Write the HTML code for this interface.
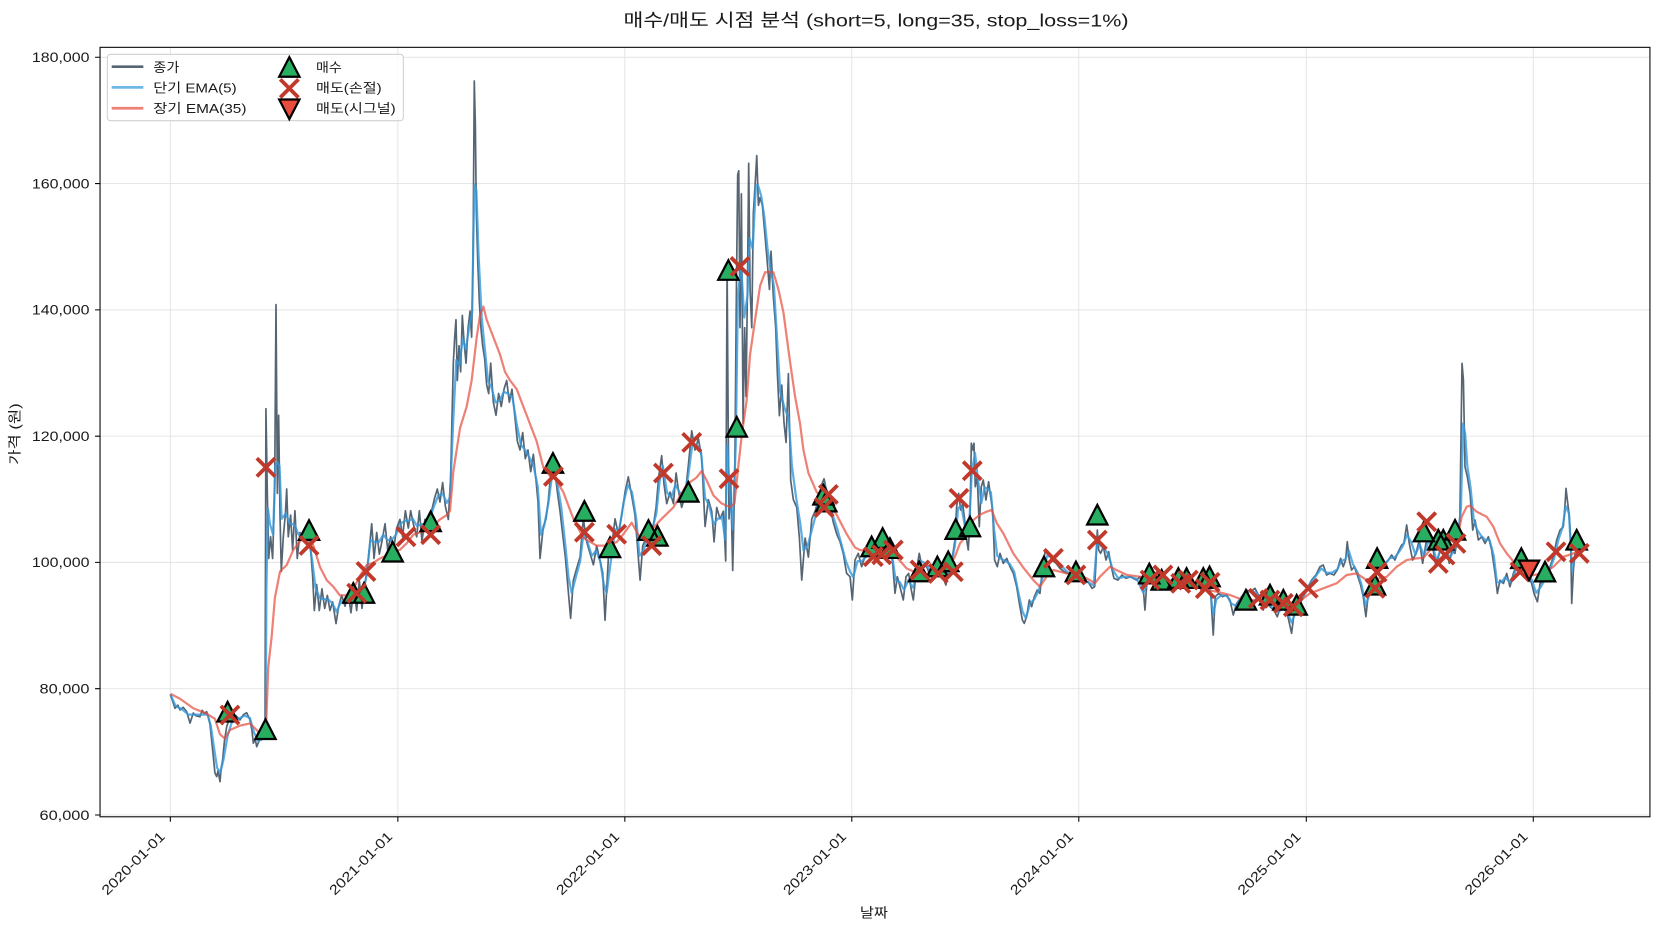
<!DOCTYPE html>
<html>
<head>
<meta charset="utf-8">
<style>
html,body{margin:0;padding:0;background:#fff;}
svg{display:block;}
text{font-family:"Liberation Sans","Noto Sans CJK KR",sans-serif;fill:#1a1a1a;}
</style>
</head>
<body>
<svg width="1660" height="930" viewBox="0 0 1568 878.43" preserveAspectRatio="none" xmlns="http://www.w3.org/2000/svg">
<defs>
<clipPath id="ax"><rect x="94.5" y="44.7" width="1464" height="726.8"/></clipPath>
</defs>
<rect x="0" y="0" width="1568" height="878.43" fill="#fff"/>
<path stroke="#e3e3e3" stroke-width="0.9" fill="none" d="M160.9,44.7V771.5M375.8,44.7V771.5M590.2,44.7V771.5M804.6,44.7V771.5M1019,44.7V771.5M1233.9,44.7V771.5M1448.3,44.7V771.5M94.5,769.8H1558.5M94.5,650.5H1558.5M94.5,531.2H1558.5M94.5,412H1558.5M94.5,292.7H1558.5M94.5,173.4H1558.5M94.5,54.1H1558.5"/>
<g clip-path="url(#ax)" fill="none" stroke-linejoin="round">
<polyline stroke="#2c3e50" stroke-opacity="0.8" stroke-width="1.6" points="160.9,655.8 163,662 165.3,669 168,666 170,670.6 173,668 176.3,672.2 179.5,683 182.6,673.5 185,676 188.9,677 191,671 193,674 195.2,672.2 197,678 198.4,684.8 200,700 201.5,714.7 203,730 204.7,733.6 206,728 207.8,738.3 209,725 210.3,717.9 212,700 214.1,686.4 217.2,677 220.4,680 223,676 226.7,680 230,675 233,673.2 236.1,680 238,690 239.3,702 241,698 242.5,705.3 245.6,697.4 248,696 250.3,695.8 251.2,386 252.5,466 253.8,527.5 255.6,507 257.5,527.5 259.4,466 260.7,287.7 262,466 263.2,392.2 264.5,486.5 265.7,539.8 267.6,507 269.5,486.5 270.8,461.9 272.3,507 274.5,486.5 276.4,519.3 278.6,482.4 280.8,527.5 283.4,502.9 286.5,511.1 289.7,498.8 292.8,511.1 295.3,543.9 296.9,576.7 299.1,552.1 301.6,576.7 304.1,556.2 306.7,574.7 309.2,562.4 311.7,576.7 314.2,568.5 317.4,589 319.9,572.6 322.7,562.4 325.9,572.6 329,560.3 331.5,578.8 334.4,554.2 336.9,576.7 339.4,548 341.9,574.7 344.8,552.1 347.9,527.5 351.1,494.7 353.3,527.5 355.8,502.9 358.3,523.4 360.8,511.1 363.7,494.7 366.2,519.3 369,507 371.5,521.4 374.7,498.8 377.8,490.6 380.3,507 382.9,482.4 385.7,498.8 387.9,482.4 390.4,494.7 393.6,507 396.1,482.4 398.6,511.1 401.4,490.6 404.6,500.9 407.7,482.4 410.6,470.1 413.1,461.9 415.6,474.2 418.1,455.8 420.7,478.3 423.5,490.6 425.7,449.6 427,392.2 428.2,343 429.5,318.4 430.7,302 432,359.4 433.6,326.6 435.1,351.2 436.7,297.9 438.3,322.5 440.2,343 442.1,310.2 444,293.8 445.5,318.4 446.8,244.6 448,76.5 449,117.5 449.9,199.5 451.2,244.6 452.8,285.6 454.3,310.2 455.9,326.6 457.8,338.9 459.7,363.5 461.6,371.7 463.5,343 466,379.9 468.5,392.2 471,371.7 473.5,384 476.1,367.6 478.6,359.4 481.1,379.9 483.6,367.6 486.2,392.2 488.7,416.8 491.2,425 493.7,408.6 496.2,433.2 498.7,425 501.3,445.5 503.8,429.1 506.3,453.7 508.2,474.2 510.1,527.5 513.2,497.3 515.8,490.1 518,472 520.2,446.8 522,432.3 524.3,446.8 526.5,464.8 529,482.9 531.5,504.6 534,526.2 536.5,555.1 539,584 541.6,547.9 544.7,537 547.9,526.2 551,490.1 554.2,511.8 557.3,522.6 560.5,533.5 563.6,515.4 566.8,529.8 569.3,540.7 571.5,585.8 574.7,526.2 577.8,515.4 581,490.1 584.1,504.6 587.3,486.5 590.4,464.8 593.5,450.4 596.7,468.4 599.8,486.5 602.1,515.4 604.6,547.9 607.1,515.4 610.2,508.2 613.4,497.3 616.5,500.9 619.7,479.3 622.2,450.4 625,430.5 627.2,457.6 629.8,475.7 632.9,464.8 636.1,475.7 638.6,446.8 641.1,464.8 643.9,479.3 647.1,468.4 650.2,439.5 653.4,407 656.5,425.1 659.7,414.3 662.8,432.3 666,497.3 669.1,472 672.3,482.9 674.5,511.8 677,479.3 680.1,490.1 683.3,482.9 685.5,529.8 686.8,251.7 687.7,381.7 688.6,490.1 690.2,454 692.1,538.9 694,454 695.6,273.4 696.8,165 697.8,161.4 699,309.5 700.3,183.1 701.9,399.8 703.4,309.5 704.7,374.5 706,273.4 707.2,154.2 708.5,273.4 710.1,309.5 711.6,201.2 713.2,175.9 714.8,147 716.4,193.9 717.9,186.7 720.1,193.9 722.3,219.2 724.5,244.5 726.8,273.4 728.3,237.3 730.5,280.6 732.7,309.5 734.3,352.9 736.2,392.6 738.4,363.7 740.6,399.8 742.5,417.9 744.7,352.9 746.9,454 749.4,472 752.6,479.3 755.1,508.2 757.3,547.9 760.5,508.2 763.6,526.2 766.8,490.1 769.9,482.9 773.1,472 776.2,457.6 778.4,452.2 780.9,464.8 784.1,479.3 787.2,493.7 790.4,504.6 793.5,511.8 796.5,522.7 799.7,541.6 802.9,544.7 805.1,566.7 807.6,529 810.7,522.7 813.9,535.3 817,525.8 820.2,516.4 823.3,529 826.5,521.1 830.6,522.7 833.7,513.2 837.5,519.5 840.6,516.4 843.2,532.1 845.4,560.4 847.6,544.7 850.1,554.2 853.2,566.7 855.8,544.7 858.3,541.6 860.8,557.3 862.7,566.7 865.2,541.6 868.3,522.7 870.9,535.3 874,532.1 877.2,540 880.3,535.3 884.1,543.1 887.9,540 891,546.3 893.5,552.6 896.1,538.4 899.2,529 902,510.1 903.6,478.6 905.5,466 907.4,481.7 909.3,475.4 911.2,491.2 913.1,510.1 914.6,519.5 916.2,491.2 917.5,418.7 918.7,425 920,418.7 921.2,459.7 923.1,450.2 925,497.5 926.9,459.7 928.8,453.4 931.3,472.3 933.8,455 935.7,469.1 937.6,481.7 939.5,529 942,535.3 944.6,522.7 947.7,532.1 950.9,527.4 954,535.3 957.2,541.6 960.3,554.2 963.4,573 965.7,585.6 967.5,588.8 969.7,582.5 972.3,566.7 974.5,573 977,563.6 979.8,557.3 982.3,560.5 984.9,535.3 987.4,519.5 990.5,522.7 993.7,529 997.5,532.1 1001.2,536.8 1005,540 1008.8,541.6 1012.6,544.7 1016.3,547.9 1020.1,546.3 1023.9,551 1027.7,549.4 1031.5,555.7 1034,554.2 1035.2,532.1 1036.5,500.6 1037.8,519.5 1039.6,522.7 1042.2,516.4 1044.7,529 1047.2,521.1 1049.7,535.3 1052.2,546.3 1056,547.9 1059.8,543.1 1063.6,546.3 1067.4,544.7 1073.6,547.9 1076.7,544.7 1079.9,555.7 1081.5,576.2 1083.7,544.7 1087.8,551 1092.5,546.3 1097.2,541.6 1101.9,551 1106.7,547.9 1111.4,551 1116.1,547.9 1120.8,554.2 1125.6,549.4 1130.3,554.2 1135,551 1139.7,555.7 1143.5,558.9 1146,599.8 1147.9,563.6 1151.1,560.5 1154.8,563.6 1158.6,562 1161.8,566.8 1164.9,580.9 1168.1,569.9 1172.8,563.6 1177.5,557.3 1181.3,558.9 1185.4,555.7 1189.5,563.6 1193.3,576.2 1196.4,566.8 1199.6,573.1 1203.3,576.2 1206.5,582.5 1209.6,573.1 1212.8,574.6 1215.9,579.4 1220,598.2 1223.2,573.1 1226.3,569.9 1230.4,563.6 1234.2,557.3 1238.9,547.9 1243,543.1 1246.8,535.3 1249.9,533.7 1253.1,543.1 1256.2,541.6 1260,543.1 1263.2,538.4 1266.3,527.4 1268.8,535.3 1271,529 1272.6,511.7 1274.5,529 1276.7,538.4 1279.2,535.3 1282.1,543.1 1285.2,552.6 1287.7,563.6 1290.2,582.5 1292.5,560.5 1295.6,547.9 1298.8,541.6 1301.9,536.8 1305.1,535.3 1308.2,532.1 1311.4,529 1314.5,524.2 1317.6,529 1320.8,521.1 1324,514.8 1326.1,513.2 1328.7,495.9 1331.2,513.2 1334.3,529 1337.5,522.7 1340.6,510.1 1343.8,532.1 1346.9,513.2 1350.1,506.9 1353.2,516.4 1356.4,535.3 1359.5,522.7 1363.3,510.1 1366.5,519.5 1369,532.1 1371.5,519.5 1374.3,522.7 1377.5,503.8 1379,488 1381,343.2 1382.3,358.9 1383.8,440.9 1386,450.3 1388.6,466.1 1391.1,500.7 1393.3,491.2 1396.4,510.1 1399.6,507 1402.7,513.3 1405.9,507 1409,519.6 1412.2,541.6 1414.4,560.5 1416.9,548 1420.1,551.1 1423.2,541.6 1426.3,554.2 1429.5,541.6 1434.2,529 1439,538.5 1443.7,544.8 1446.8,551.1 1449,560.5 1452.2,568.4 1454.7,551.1 1459.4,548 1464.1,535.3 1467.3,525.9 1470.4,510.1 1473.6,500.7 1476.7,497.5 1478.4,475 1479.2,461.3 1480.5,472.4 1482.4,488.1 1483.6,510.1 1484.6,570 1486.2,538.5 1487.8,522.7 1489.3,522.7"/>
<polyline stroke="#3498db" stroke-opacity="0.8" stroke-width="2.1" points="160.9,655.8 166,667 172,670 178,675 184,675 190,675 196,675 199,685 202,705 205,725 208,730 211,718 215,695 219,682 225,679 231,676 236,678 240,692 244,700 248,698 251,696 251.6,560 253,480 255,495 258,505 260,440 262,437 264,440 266,490 270,485 274,495 278,495 282,505 287,505 291,505 295,530 298,555 302,565 306,566 310,566 314,570 318,578 322,568 326,568 330,568 334,562 338,565 342,562 346,545 350,510 354,512 358,512 362,505 366,510 370,510 374,505 378,495 382,492 386,492 390,490 394,497 398,495 402,495 406,490 410,478 414,468 418,466 422,475 425,470 428,400 431,340 434,345 437,320 440,330 443,310 446,295 448,174 450,180 452,240 455,300 458,330 461,360 464,365 468,380 472,378 476,370 480,372 484,375 488,400 492,420 496,425 500,432 504,440 508,460 511,505 514,497 518,475 522,445 526,455 530,478 534,515 537,545 540,560 544,545 548,530 551,505 555,512 559,525 563,520 567,530 570,550 573,560 577,530 581,500 585,500 589,475 593,458 597,465 601,490 604,525 608,520 612,505 616,500 620,485 623,455 626,440 630,465 634,470 638,458 642,465 646,470 650,450 654,420 658,420 662,425 666,470 670,478 674,495 678,490 682,488 685,510 687,420 689,460 692,500 695,420 697,280 700,250 703,300 706,280 708,225 711,235 714,175 716,175 719,185 722,205 725,235 728,255 731,270 734,320 737,370 741,385 745,395 748,440 752,470 756,495 759,520 763,515 767,500 771,485 775,465 779,458 783,470 787,488 791,500 795,515 799,530 803,540 806,545 810,530 814,530 818,526 822,523 826,522 831,520 835,517 839,518 843,527 846,548 850,550 854,557 858,548 862,555 866,545 870,530 874,532 878,538 882,538 886,541 890,544 894,548 898,536 902,515 905,480 908,478 912,500 915,505 918,445 921,428 924,455 927,475 930,460 933,462 936,465 939,500 942,525 946,528 950,530 954,533 958,540 962,560 966,578 969,584 973,570 977,566 981,558 985,545 989,525 993,526 998,530 1003,535 1008,540 1013,544 1018,546 1023,549 1028,550 1033,553 1036,515 1039,515 1043,518 1047,524 1051,538 1056,546 1062,545 1068,545 1074,547 1080,560 1084,550 1090,548 1096,544 1102,549 1108,549 1114,549 1120,552 1126,551 1132,553 1138,554 1143,557 1146,580 1149,566 1154,562 1159,563 1163,570 1167,572 1172,566 1177,560 1182,558 1187,560 1192,570 1197,569 1202,574 1207,578 1212,575 1216,578 1220,588 1224,578 1228,570 1233,560 1238,550 1243,544 1248,537 1253,541 1258,541 1263,538 1267,530 1271,528 1274,520 1278,533 1282,540 1286,552 1290,572 1293,563 1297,550 1301,540 1305,536 1309,532 1313,527 1317,527 1321,522 1325,516 1329,505 1333,512 1337,524 1341,514 1345,525 1349,512 1353,514 1357,530 1361,518 1365,515 1369,527 1373,521 1377,508 1380,480 1382,400 1384,410 1386,440 1389,460 1392,490 1395,500 1399,506 1403,510 1407,510 1411,525 1414,550 1418,550 1422,545 1426,550 1430,543 1434,533 1438,536 1443,542 1447,548 1451,560 1455,555 1459,548 1464,538 1468,527 1472,510 1476,498 1479,478 1482,485 1485,540 1487,528 1489.3,524"/>
<polyline stroke="#e74c3c" stroke-opacity="0.7" stroke-width="2.1" points="161.2,655.4 170,660 182.6,669 195,674 203,679 207.8,693.6 212.5,697.7 217.2,689.5 226.7,685.4 236.1,683.3 242.4,689.5 248.7,697.7 251,694 253.4,630 256.6,601.3 259.7,564.4 264.5,539.8 270.8,533.7 277.1,519.3 283.4,511.1 289.7,507 296,515.2 302.3,535.7 308.6,548 314.9,554.2 321.1,562.4 327.4,562.4 333.7,556.2 340,543.9 346.3,533.7 352.6,531.6 358.9,527.5 368.4,523.4 377.8,519.3 384.1,513.2 390.4,505 396.7,502.9 403,500.9 409.3,496.8 415.6,490.6 421.9,486.5 425.1,482.4 428.2,445.5 434.5,404.5 440.8,384 445.5,359.4 450.3,318.4 453.4,297.9 456.6,289.7 459.7,302 466,318.4 472.3,334.8 477,351.2 481.8,359.4 488.1,367.6 494.3,384 500.6,400.4 506.9,416.8 513.2,441.4 519.5,449.6 522.7,446.8 526,455 532.1,464.8 541.6,490 551,508 563.6,515.4 573,515.4 582.5,512 588.8,504.5 596.7,493.7 604.6,508 614,502 625,490 636,479.3 648.7,457.6 658,451 662.8,445 667.6,454 673.9,468 681.7,475.6 689.6,479 693.7,475.6 697.5,439.5 700.7,410.6 705.3,378.1 708.5,334.8 713.2,302.3 718,269.8 722.7,257.1 730.5,257.1 735.3,273.4 740,295 746.3,342 751,374.5 755.7,400 758.9,425 763.6,446.8 771.5,465 781,472 790.4,486.5 799.8,504.5 807.7,517.2 812.3,519.5 825,521 834.4,520.8 847,526.2 856.5,537 869.1,542.5 881.6,541.6 890,540 896,536 902,525.8 906.8,513.2 913,506 919.4,491.2 926,486 932,483.3 936.7,481.7 941.5,494 947.7,503.8 957.1,522.7 966.5,536 976,547.9 982.3,554.2 988.6,544.7 995,538.4 1007.5,541.6 1020.1,543.1 1029.6,548 1034.3,551 1039,544.7 1048.5,535.3 1054.8,538.5 1064.2,543 1076.8,544.7 1095.7,548 1114.6,551 1130.3,552.6 1139.8,557.3 1149.2,558.9 1161.8,562 1174.4,566.8 1193,567 1212.2,568.3 1224.8,569.9 1237.3,560.5 1250,555.7 1262.5,551 1272,543.1 1281.5,541.6 1291,548 1300,547 1309.8,544.8 1319.3,535.3 1328.7,529 1338.1,527.4 1344.5,527 1350.8,519.6 1360.2,513.3 1369.7,510.1 1377.5,503.8 1380.7,488.1 1385.4,478.6 1388.6,477.7 1394.9,483.4 1404.3,488.1 1410.6,497.5 1416.9,513.3 1423.2,522.7 1431.1,532.2 1439,538.5 1448.4,543.2 1457.8,541.6 1467.3,535.3 1476.7,525.9 1486.2,522.7 1489.3,522"/>
</g>
<path fill="#27ae60" stroke="#000" stroke-width="2.1" d="M215,663l9.6,18.5h-19.2zM250.8,679.5l9.6,18.5h-19.2zM291.9,491.4l9.6,18.5h-19.2zM333.7,550.8l9.6,18.5h-19.2zM343.8,550.8l9.6,18.5h-19.2zM370.9,511.9l9.6,18.5h-19.2zM406.8,483.2l9.6,18.5h-19.2zM522.3,428l9.6,18.5h-19.2zM552,473.4l9.6,18.5h-19.2zM576.2,507.7l9.6,18.5h-19.2zM612.5,491.4l9.6,18.5h-19.2zM621,496.9l9.6,18.5h-19.2zM650.2,455.3l9.6,18.5h-19.2zM688,245.8l9.6,18.5h-19.2zM695.9,393.9l9.6,18.5h-19.2zM777.8,458l9.6,18.5h-19.2zM780.5,464.5l9.6,18.5h-19.2zM823.3,506.9l9.6,18.5h-19.2zM833.7,499l9.6,18.5h-19.2zM840.6,508.5l9.6,18.5h-19.2zM868.3,530.5l9.6,18.5h-19.2zM885.4,525.8l9.6,18.5h-19.2zM895.7,521l9.6,18.5h-19.2zM902.7,490.5l9.6,18.5h-19.2zM916.2,488l9.6,18.5h-19.2zM986.1,525.8l9.6,18.5h-19.2zM1016.3,530.5l9.6,18.5h-19.2zM1036.5,476.9l9.6,18.5h-19.2zM1085.6,532.5l9.6,18.5h-19.2zM1097.3,538.4l9.6,18.5h-19.2zM1113,536.8l9.6,18.5h-19.2zM1120.8,536.8l9.6,18.5h-19.2zM1136.6,536.8l9.6,18.5h-19.2zM1142.5,535.2l9.6,18.5h-19.2zM1176.9,557.3l9.6,18.5h-19.2zM1199.6,552.5l9.6,18.5h-19.2zM1212.2,557.3l9.6,18.5h-19.2zM1224.8,562l9.6,18.5h-19.2zM1298.8,543l9.6,18.5h-19.2zM1300.8,517.9l9.6,18.5h-19.2zM1345,492.8l9.6,18.5h-19.2zM1358.6,500.5l9.6,18.5h-19.2zM1363.3,500.6l9.6,18.5h-19.2zM1374.4,491.2l9.6,18.5h-19.2zM1437,518l9.6,18.5h-19.2zM1459.4,530.6l9.6,18.5h-19.2zM1489.3,500.6l9.6,18.5h-19.2z"/>
<path fill="none" stroke="#c0392b" stroke-width="3.6" d="M208.6,666.8l17.2,17.2m0,-17.2l-17.2,17.2M242.6,432.8l17.2,17.2m0,-17.2l-17.2,17.2M283.3,506.6l17.2,17.2m0,-17.2l-17.2,17.2M328.3,551.7l17.2,17.2m0,-17.2l-17.2,17.2M337.1,531.2l17.2,17.2m0,-17.2l-17.2,17.2M374.9,498.4l17.2,17.2m0,-17.2l-17.2,17.2M398.2,496.4l17.2,17.2m0,-17.2l-17.2,17.2M514.1,441.4l17.2,17.2m0,-17.2l-17.2,17.2M543.4,494.1l17.2,17.2m0,-17.2l-17.2,17.2M573.9,496l17.2,17.2m0,-17.2l-17.2,17.2M607,506.8l17.2,17.2m0,-17.2l-17.2,17.2M618,438.2l17.2,17.2m0,-17.2l-17.2,17.2M644.8,409.3l17.2,17.2m0,-17.2l-17.2,17.2M680,443.6l17.2,17.2m0,-17.2l-17.2,17.2M690.4,243.1l17.2,17.2m0,-17.2l-17.2,17.2M773.9,458.4l17.2,17.2m0,-17.2l-17.2,17.2M769.8,470.7l17.2,17.2m0,-17.2l-17.2,17.2M816.3,517.2l17.2,17.2m0,-17.2l-17.2,17.2M824.2,515.4l17.2,17.2m0,-17.2l-17.2,17.2M835.2,510.9l17.2,17.2m0,-17.2l-17.2,17.2M860.4,529.8l17.2,17.2m0,-17.2l-17.2,17.2M877.7,533l17.2,17.2m0,-17.2l-17.2,17.2M891.9,531.4l17.2,17.2m0,-17.2l-17.2,17.2M897.2,462.1l17.2,17.2m0,-17.2l-17.2,17.2M909.8,436l17.2,17.2m0,-17.2l-17.2,17.2M986.4,518.8l17.2,17.2m0,-17.2l-17.2,17.2M1007.7,534.5l17.2,17.2m0,-17.2l-17.2,17.2M1027.9,501.5l17.2,17.2m0,-17.2l-17.2,17.2M1077.7,539.3l17.2,17.2m0,-17.2l-17.2,17.2M1089.9,534.5l17.2,17.2m0,-17.2l-17.2,17.2M1106.7,542.4l17.2,17.2m0,-17.2l-17.2,17.2M1113.9,539.3l17.2,17.2m0,-17.2l-17.2,17.2M1129.9,547.4l17.2,17.2m0,-17.2l-17.2,17.2M1134.4,541.4l17.2,17.2m0,-17.2l-17.2,17.2M1179.9,556.6l17.2,17.2m0,-17.2l-17.2,17.2M1191,558.2l17.2,17.2m0,-17.2l-17.2,17.2M1203.6,561.3l17.2,17.2m0,-17.2l-17.2,17.2M1213,564.5l17.2,17.2m0,-17.2l-17.2,17.2M1227.2,547.1l17.2,17.2m0,-17.2l-17.2,17.2M1290.2,547.1l17.2,17.2m0,-17.2l-17.2,17.2M1292.2,531.9l17.2,17.2m0,-17.2l-17.2,17.2M1339,484.2l17.2,17.2m0,-17.2l-17.2,17.2M1350,523.6l17.2,17.2m0,-17.2l-17.2,17.2M1356.4,515.7l17.2,17.2m0,-17.2l-17.2,17.2M1366.7,504.7l17.2,17.2m0,-17.2l-17.2,17.2M1427.2,531.5l17.2,17.2m0,-17.2l-17.2,17.2M1461.2,512.6l17.2,17.2m0,-17.2l-17.2,17.2M1483.2,514.1l17.2,17.2m0,-17.2l-17.2,17.2"/>
<path fill="#e74c3c" stroke="#000" stroke-width="2.1" d="M1444.3,548l9.6,-18.5h-19.2z"/>
<rect x="94.5" y="44.7" width="1464" height="726.8" fill="none" stroke="#000" stroke-width="1"/>
<path stroke="#000" stroke-width="1" fill="none" d="M89.8,769.8H94.5M89.8,650.5H94.5M89.8,531.2H94.5M89.8,412H94.5M89.8,292.7H94.5M89.8,173.4H94.5M89.8,54.1H94.5M160.9,771.5V776.2M375.8,771.5V776.2M590.2,771.5V776.2M804.6,771.5V776.2M1019,771.5V776.2M1233.9,771.5V776.2M1448.3,771.5V776.2"/>
<g font-size="13" text-anchor="end">
<text x="84.5" y="774.4" textLength="47.2" lengthAdjust="spacingAndGlyphs">60,000</text>
<text x="84.5" y="655.1" textLength="47.2" lengthAdjust="spacingAndGlyphs">80,000</text>
<text x="84.5" y="535.8" textLength="54.4" lengthAdjust="spacingAndGlyphs">100,000</text>
<text x="84.5" y="416.6" textLength="54.4" lengthAdjust="spacingAndGlyphs">120,000</text>
<text x="84.5" y="297.3" textLength="54.4" lengthAdjust="spacingAndGlyphs">140,000</text>
<text x="84.5" y="178" textLength="54.4" lengthAdjust="spacingAndGlyphs">160,000</text>
<text x="84.5" y="58.7" textLength="54.4" lengthAdjust="spacingAndGlyphs">180,000</text>
<text transform="translate(156.5,791) rotate(-45)" textLength="78" lengthAdjust="spacingAndGlyphs">2020-01-01</text>
<text transform="translate(371.4,791) rotate(-45)" textLength="78" lengthAdjust="spacingAndGlyphs">2021-01-01</text>
<text transform="translate(585.8,791) rotate(-45)" textLength="78" lengthAdjust="spacingAndGlyphs">2022-01-01</text>
<text transform="translate(800.2,791) rotate(-45)" textLength="78" lengthAdjust="spacingAndGlyphs">2023-01-01</text>
<text transform="translate(1014.6,791) rotate(-45)" textLength="78" lengthAdjust="spacingAndGlyphs">2024-01-01</text>
<text transform="translate(1229.5,791) rotate(-45)" textLength="78" lengthAdjust="spacingAndGlyphs">2025-01-01</text>
<text transform="translate(1443.9,791) rotate(-45)" textLength="78" lengthAdjust="spacingAndGlyphs">2026-01-01</text>
</g>
<text x="825.5" y="866.5" font-size="13" text-anchor="middle" textLength="26.5" lengthAdjust="spacingAndGlyphs">날짜</text>
<text transform="translate(18.5,410) rotate(-90)" font-size="13" text-anchor="middle" textLength="58" lengthAdjust="spacingAndGlyphs">가격 (원)</text>
<text x="827.5" y="25" font-size="17" text-anchor="middle" textLength="477" lengthAdjust="spacingAndGlyphs">매수/매도 시점 분석 (short=5, long=35, stop_loss=1%)</text>
<rect x="101.4" y="51.3" width="279.6" height="62.7" rx="3" ry="3" fill="#fff" fill-opacity="0.85" stroke="#d0d0d0" stroke-width="1"/>
<path stroke="#2c3e50" stroke-opacity="0.8" stroke-width="2.4" d="M105.5,63H135.4"/>
<path stroke="#3498db" stroke-opacity="0.7" stroke-width="2.6" d="M105.5,82.5H135.4"/>
<path stroke="#e74c3c" stroke-opacity="0.7" stroke-width="2.6" d="M105.5,102.3H135.4"/>
<path fill="#27ae60" stroke="#000" stroke-width="2.1" d="M273.3,54l9.6,18.5h-19.2z"/>
<path fill="none" stroke="#c0392b" stroke-width="3.6" d="M264.7,74.9l17.2,17.2m0,-17.2l-17.2,17.2"/>
<path fill="#e74c3c" stroke="#000" stroke-width="2.1" d="M273.3,112.5l9.6,-18.5h-19.2z"/>
<g font-size="12.5">
<text x="144.8" y="67.8" textLength="24.6" lengthAdjust="spacingAndGlyphs">종가</text>
<text x="144.8" y="87.3" textLength="78.7" lengthAdjust="spacingAndGlyphs">단기 EMA(5)</text>
<text x="144.8" y="106.9" textLength="88" lengthAdjust="spacingAndGlyphs">장기 EMA(35)</text>
<text x="298.5" y="67.8" textLength="24.3" lengthAdjust="spacingAndGlyphs">매수</text>
<text x="298.5" y="87.3" textLength="62" lengthAdjust="spacingAndGlyphs">매도(손절)</text>
<text x="298.5" y="106.9" textLength="75.3" lengthAdjust="spacingAndGlyphs">매도(시그널)</text>
</g>
</svg>
</body>
</html>
